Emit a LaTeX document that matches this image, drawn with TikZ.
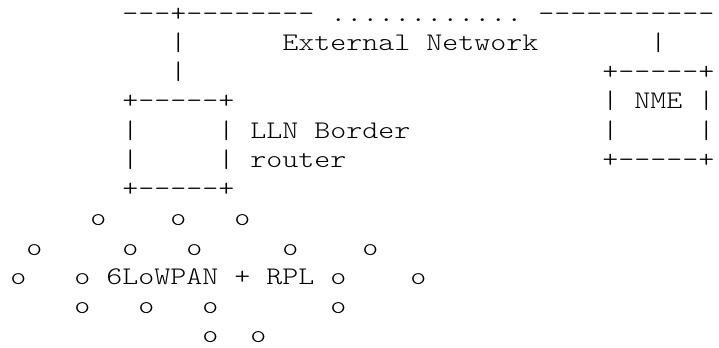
\documentclass[tikz,border=0pt]{standalone}
\usepackage{fontspec}
\newfontfamily\asciifont{lmmonolt10-regular.otf}[FakeStretch=1.203]
\begin{document}
\begin{tikzpicture}[x=0.75pt, y=-0.75pt,
  asc/.style={anchor=base west, inner sep=0pt, outer sep=0pt, font=\asciifont\fontsize{19pt}{22pt}\selectfont}]
% page frame in pixel units
\useasboundingbox (0,0) rectangle (719,347);
\clip (0,0) rectangle (719,347);
% character cell: column c, row r
\newcommand\putcell[4]{\node[asc] (#1) at ({10.3+16*#2},{21.0+29.25*#3}) {#4};}
% external network line
\putcell{lineA}{7}{0}{---+--------}
\putcell{lineDots}{20}{0}{............}
\putcell{lineB}{33}{0}{-----------}
\putcell{upL1}{10}{1}{|}
\putcell{extnet}{17}{1}{External Network}
\putcell{upR1}{40}{1}{|}
\putcell{upL2}{10}{2}{|}
% NME box
\putcell{nmeTop}{37}{2}{+-----+}
\putcell{nmeL1}{37}{3}{|}
\putcell{nme}{39}{3}{NME}
\putcell{nmeR1}{43}{3}{|}
\putcell{nmeL2}{37}{4}{|}
\putcell{nmeR2}{43}{4}{|}
\putcell{nmeBot}{37}{5}{+-----+}
% LLN border router box
\putcell{brTop}{7}{3}{+-----+}
\putcell{brL1}{7}{4}{|}
\putcell{brR1}{13}{4}{| LLN Border}
\putcell{brL2}{7}{5}{|}
\putcell{brR2}{13}{5}{| router}
\putcell{brBot}{7}{6}{+-----+}
% LLN nodes
\putcell{n7a}{5}{7}{o}
\putcell{n7b}{10}{7}{o}
\putcell{n7c}{14}{7}{o}
\putcell{n8a}{1}{8}{o}
\putcell{n8b}{7}{8}{o}
\putcell{n8c}{11}{8}{o}
\putcell{n8d}{17}{8}{o}
\putcell{n8e}{22}{8}{o}
\putcell{n9a}{0}{9}{o}
\putcell{n9b}{4}{9}{o}
\putcell{lln}{6}{9}{6LoWPAN + RPL}
\putcell{n9c}{20}{9}{o}
\putcell{n9d}{25}{9}{o}
\putcell{n10a}{4}{10}{o}
\putcell{n10b}{8}{10}{o}
\putcell{n10c}{12}{10}{o}
\putcell{n10d}{20}{10}{o}
\putcell{n11a}{12}{11}{o}
\putcell{n11b}{15}{11}{o}
\end{tikzpicture}
\end{document}
